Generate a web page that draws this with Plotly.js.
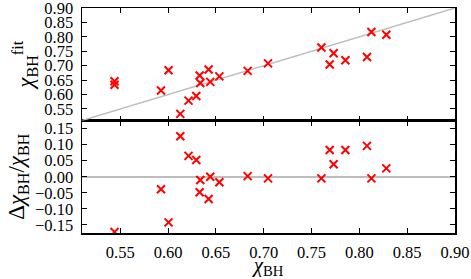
<!DOCTYPE html>
<html>
<head>
<meta charset="utf-8">
<script src="https://cdn.plot.ly/plotly-3.0.1.min.js"></script>
<style>html,body{margin:0;padding:0;background:#fff;}#chart{width:471px;height:279px;}</style>
</head>
<body>
<div id="chart"></div>
<script>
// chi_BH (true) values
var chiBH = [0.544, 0.544, 0.5926, 0.6005, 0.6128, 0.6214, 0.6295, 0.633, 0.6337, 0.6424, 0.6441, 0.6536, 0.6832, 0.7045, 0.7603, 0.769, 0.7731, 0.7854, 0.808, 0.8126, 0.8282];
// fitted chi_BH
var chiFit = [0.646, 0.634, 0.614, 0.684, 0.533, 0.579, 0.595, 0.666, 0.640, 0.687, 0.644, 0.663, 0.682, 0.708, 0.763, 0.704, 0.743, 0.719, 0.730, 0.817, 0.807];
// relative residual Delta chi / chi
var relResid = [-0.172, -0.19, -0.039, -0.142, 0.126, 0.065, 0.052, -0.048, -0.010, -0.069, 0.000, -0.017, 0.002, -0.005, -0.005, 0.083, 0.039, 0.083, 0.096, -0.005, 0.026];
// identity reference line end points
var identityLine = [0.5, 0.95];

var xTicks = [0.55, 0.60, 0.65, 0.70, 0.75, 0.80, 0.85, 0.90];
var xTickText = ["0.55", "0.60", "0.65", "0.70", "0.75", "0.80", "0.85", "0.90"];
var yTopTicks = [0.55, 0.60, 0.65, 0.70, 0.75, 0.80, 0.85, 0.90];
var yTopTickText = ["0.55", "0.60", "0.65", "0.70", "0.75", "0.80", "0.85", "0.90"];
var yBotTicks = [-0.15, -0.10, -0.05, 0.00, 0.05, 0.10, 0.15];
var yBotTickText = ["\u22120.15", "\u22120.10", "\u22120.05", "0.00", "0.05", "0.10", "0.15"];

var FONT = "Liberation Serif, Times New Roman, serif";
var mk = {symbol: "x-thin", size: 8, color: "red", line: {color: "red", width: 2}};

var traces = [
  {x: identityLine, y: identityLine, xaxis: "x2", yaxis: "y2", mode: "lines",
   line: {color: "#bdbdbd", width: 1.5}, hoverinfo: "skip", showlegend: false},
  {x: chiBH, y: chiFit, xaxis: "x2", yaxis: "y2", mode: "markers", marker: mk, showlegend: false},
  {x: chiBH, y: relResid, xaxis: "x", yaxis: "y", mode: "markers", marker: mk, showlegend: false}
];

function axisBase() {
  return {
    showline: true, linecolor: "black", linewidth: 1.5, mirror: "ticks",
    ticks: "inside", ticklen: 5, tickwidth: 1, tickcolor: "black",
    showgrid: false, zeroline: false,
    tickfont: {family: FONT, size: 16.5, color: "black"},
    ticklabelstandoff: 4, ticklabeloverflow: "allow"
  };
}

var xa = axisBase();
Object.assign(xa, {anchor: "y", domain: [0, 1], range: [0.51, 0.9000001], tickmode: "array",
  tickvals: xTicks, ticktext: xTickText,
  title: {text: "<i>\u03c7</i><sub>BH</sub>", font: {family: FONT, size: 21, color: "black"}, standoff: 8}});
var xa2 = axisBase();
Object.assign(xa2, {anchor: "y2", domain: [0, 1], matches: "x", range: [0.51, 0.9000001], tickmode: "array",
  tickvals: xTicks, showticklabels: false});
var ya = axisBase();
Object.assign(ya, {anchor: "x", domain: [0, 0.5], range: [-0.175, 0.175], tickmode: "array",
  tickvals: yBotTicks, ticktext: yBotTickText,
  zeroline: true, zerolinecolor: "#bdbdbd", zerolinewidth: 1.5,
  title: {text: "\u0394<i>\u03c7</i><sub>BH</sub>/<i>\u03c7</i><sub>BH</sub>", font: {family: FONT, size: 23, color: "black"}, standoff: 4}});
var ya2 = axisBase();
Object.assign(ya2, {anchor: "x2", domain: [0.5, 1], range: [0.51, 0.9000001], tickmode: "array",
  tickvals: yTopTicks, ticktext: yTopTickText,
  title: {text: "<i>\u03c7</i><sub>BH</sub><sup>fit</sup>", font: {family: FONT, size: 23, color: "black"}, standoff: 4}});

var layout = {
  width: 471, height: 279,
  margin: {l: 82, r: 16, t: 8, b: 46, pad: 0},
  paper_bgcolor: "white", plot_bgcolor: "white",
  showlegend: false,
  xaxis: xa, xaxis2: xa2, yaxis: ya, yaxis2: ya2
};

Plotly.newPlot("chart", traces, layout, {staticPlot: true, displayModeBar: false});
</script>
</body>
</html>
